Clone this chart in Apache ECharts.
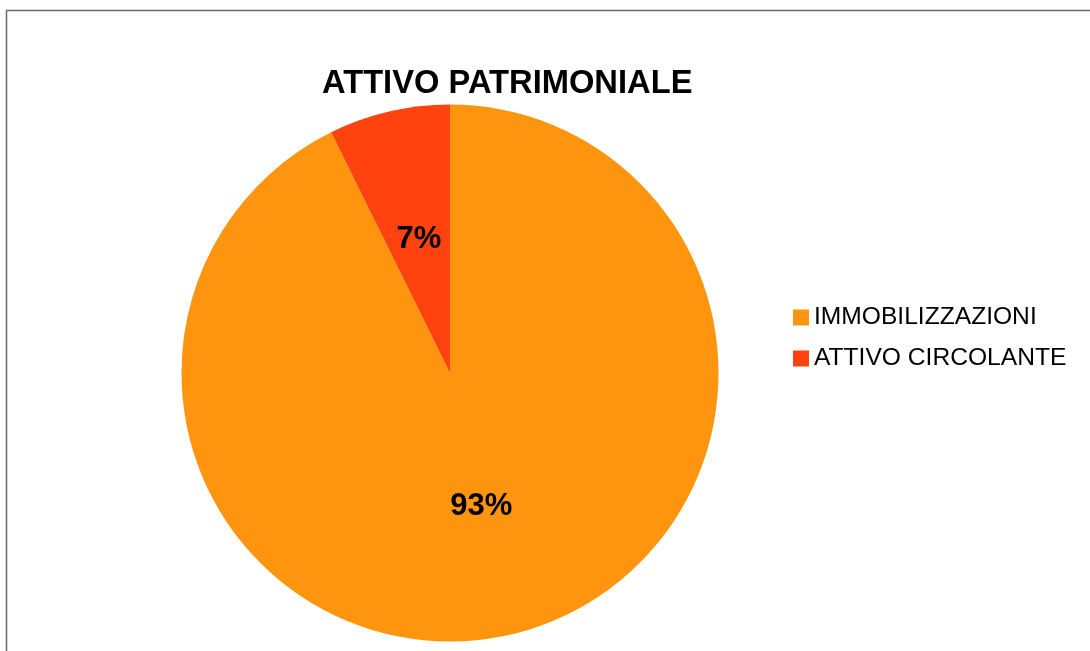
<!DOCTYPE html>
<html>
<head>
<meta charset="utf-8">
<script src="https://cdn.jsdelivr.net/npm/echarts@6/dist/echarts.min.js"></script>
<style>
html,body{margin:0;padding:0;background:#fff;}
#chart{width:1090px;height:651px;}
</style>
</head>
<body>
<div id="chart"></div>
<script>
var categories = ['IMMOBILIZZAZIONI', 'ATTIVO CIRCOLANTE'];
var values = [92.7, 7.3];
var colors = ['#FF950E', '#FF420E'];
var titleText = 'ATTIVO PATRIMONIALE';

var chart = echarts.init(document.getElementById('chart'), null, {renderer: 'canvas'});
var font = '"Liberation Sans", Arial, sans-serif';
chart.setOption({
  animation: false,
  backgroundColor: '#ffffff',
  color: colors,
  title: {
    text: titleText,
    left: 322,
    top: 67,
    padding: 0,
    textStyle: {fontFamily: font, fontSize: 32.7, fontWeight: 'bold', color: '#000'}
  },
  legend: {
    orient: 'vertical',
    left: 793,
    top: 305,
    padding: 0,
    icon: 'rect',
    itemWidth: 16,
    itemHeight: 16,
    itemGap: 16,
    data: categories,
    textStyle: {fontFamily: font, fontSize: 24.6, lineHeight: 24, color: '#000'}
  },
  graphic: [{
    type: 'rect',
    shape: {x: 6.5, y: 10.5, width: 1200, height: 800},
    style: {fill: 'none', stroke: '#6a6a6a', lineWidth: 1.5},
    silent: true
  }],
  series: [{
    type: 'pie',
    center: [450, 373],
    radius: 268.5,
    startAngle: 90,
    clockwise: true,
    avoidLabelOverlap: false,
    itemStyle: {borderWidth: 0},
    label: {
      show: true,
      position: 'inside',
      fontFamily: font,
      fontSize: 31,
      fontWeight: 'bold',
      color: '#000',
      formatter: function (p) { return Math.round(p.percent) + '%'; }
    },
    labelLine: {show: false},
    data: categories.map(function (c, i) { return {name: c, value: values[i]}; })
  }]
});
</script>
</body>
</html>
